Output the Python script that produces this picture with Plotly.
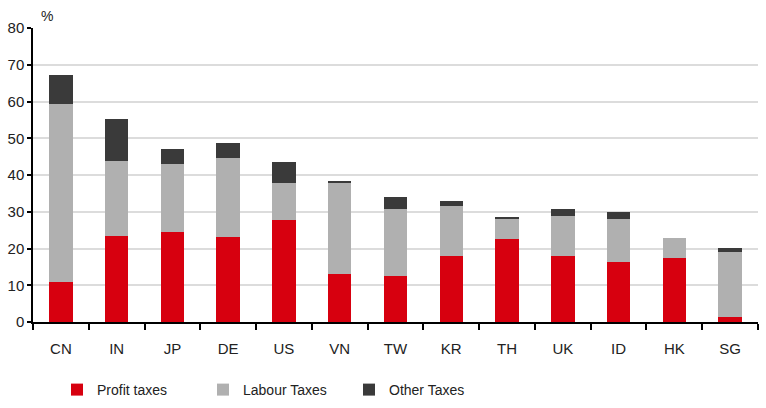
import plotly.graph_objects as go

countries = ["CN", "IN", "JP", "DE", "US", "VN", "TW", "KR", "TH", "UK", "ID", "HK", "SG"]
profit = [10.8, 23.3, 24.5, 23.0, 27.8, 13.1, 12.5, 18.0, 22.6, 18.0, 16.4, 17.5, 1.3]
labour = [48.4, 20.4, 18.4, 21.7, 9.9, 24.8, 18.2, 13.7, 5.4, 10.9, 11.5, 5.4, 17.7]
other = [7.9, 11.5, 4.1, 3.9, 5.8, 0.2, 3.4, 1.2, 0.6, 1.8, 2.0, 0.0, 1.1]

FONT = "Liberation Sans Narrow, Arial Narrow, Liberation Sans, Arial, sans-serif"

fig = go.Figure()
for name, vals, col in [("Profit taxes", profit, "#d7000f"),
                        ("Labour Taxes", labour, "#b0b0b0"),
                        ("Other Taxes", other, "#3a3a3a")]:
    fig.add_trace(go.Bar(x=countries, y=vals, name=name, marker_color=col,
                         marker_line_width=0))

L, R, T, B = 33, 8, 28, 86
pw = 766 - L - R
ph = 408 - T - B

fig.update_layout(
    barmode="stack",
    bargap=0.58,
    width=766, height=408,
    margin=dict(l=L, r=R, t=T, b=B, autoexpand=False),
    paper_bgcolor="white", plot_bgcolor="white",
    font=dict(family=FONT, size=14, color="#222222"),
    showlegend=True,
    legend=dict(orientation="h", x=(57 - L) / pw, xanchor="left",
                y=-(390 - 322) / ph, yanchor="middle",
                entrywidth=101, entrywidthmode="pixels", itemwidth=30,
                font=dict(size=14, family=FONT, color="#222222"),
                traceorder="normal"),
    annotations=[dict(text="%", xref="paper", yref="paper", x=(47 - L) / pw, y=1.0,
                      xanchor="center", yanchor="bottom", showarrow=False,
                      font=dict(size=14, family=FONT, color="#222222"), yshift=2)],
)
fig.update_xaxes(showline=True, linecolor="black", linewidth=1.5, automargin=False,
                 ticks="outside", tickson="boundaries", ticklen=6, tickcolor="black",
                 tickwidth=1.5, showgrid=False, tickfont=dict(size=15), ticklabelstandoff=12)
fig.update_yaxes(range=[0, 80], dtick=10, showline=True, linecolor="black", linewidth=1.5,
                 ticks="outside", ticklen=4, tickcolor="black", tickwidth=1.5, automargin=False,
                 gridcolor="#dcdcdc", gridwidth=1.5, zeroline=False,
                 tickfont=dict(size=15))

fig.write_html("out.html")
